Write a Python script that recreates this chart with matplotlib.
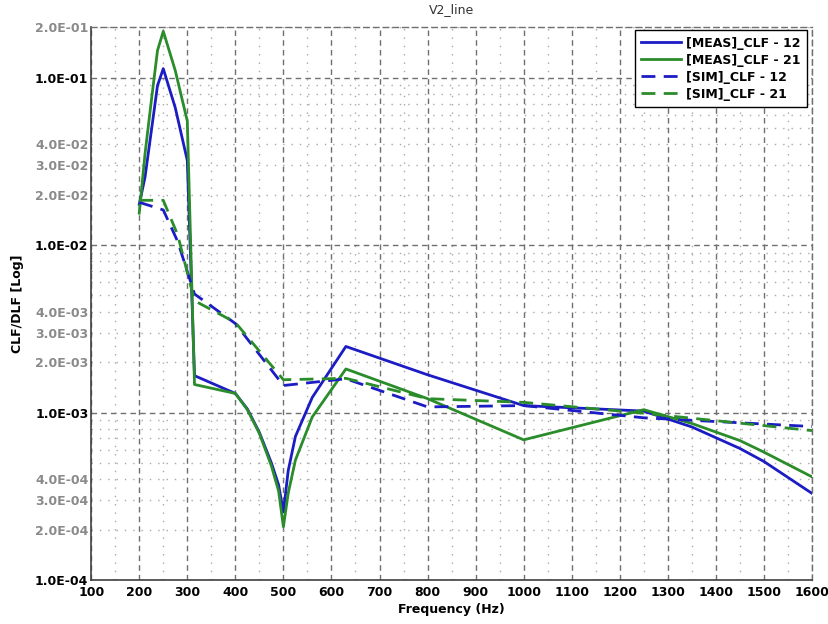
import matplotlib
matplotlib.use('Agg')
import matplotlib.pyplot as plt
from matplotlib.ticker import FixedLocator, FuncFormatter, MultipleLocator
import numpy as np

freq_meas = [200, 212, 226, 238, 250, 275, 300, 315, 400, 425, 450, 475, 490, 500,
             510, 525, 560, 630, 800, 1000, 1250, 1350, 1450, 1500, 1600]
meas_12 = [0.0175, 0.0254, 0.050, 0.0896, 0.113, 0.066, 0.032, 0.00166, 0.0013,
           0.00105, 0.00076, 0.00050, 0.00037, 0.000255, 0.00045, 0.00072, 0.00123,
           0.00248, 0.00168, 0.00110, 0.00102, 0.00082, 0.00061, 0.00051, 0.000329]
meas_21 = [0.0155, 0.035, 0.076, 0.145, 0.189, 0.11, 0.055, 0.00147, 0.0013,
           0.00104, 0.00075, 0.00048, 0.00034, 0.000208, 0.00033, 0.00052, 0.00094,
           0.00182, 0.00121, 0.000687, 0.00104, 0.00086, 0.00068, 0.00058, 0.000413]

# simulated curves
freq_sim = [200, 250, 280, 315, 400, 500, 630, 800, 1000, 1250, 1600]
sim_12 = [0.018, 0.0162, 0.0105, 0.0051, 0.0034, 0.00145, 0.00159, 0.00108,
          0.00110, 0.00093, 0.000825]
sim_21 = [0.0185, 0.0185, 0.0115, 0.00465, 0.00345, 0.00157, 0.0016, 0.00121,
          0.00115, 0.00099, 0.00078]

x_ticks = list(range(100, 1700, 100))
y_major = [1e-4, 1e-3, 1e-2, 1e-1]
y_minor = [m * 10.0 ** e for e in range(-4, 0) for m in range(2, 10)]

BLUE = '#1c1cc4'
GREEN = '#2a8c2a'

fig = plt.figure(figsize=(8.29, 6.24), dpi=100)
ax = fig.add_axes([0.110, 0.0705, 0.8695, 0.886])

ax.plot(freq_meas, meas_12, color=BLUE, lw=2, label='[MEAS]_CLF - 12')
ax.plot(freq_meas, meas_21, color=GREEN, lw=2, label='[MEAS]_CLF - 21')
ax.plot(freq_sim, sim_12, color=BLUE, lw=2, dashes=(5, 3), label='[SIM]_CLF - 12')
ax.plot(freq_sim, sim_21, color=GREEN, lw=2, dashes=(5, 3), label='[SIM]_CLF - 21')

ax.set_yscale('log')
ax.set_xlim(100, 1600)
ax.set_ylim(1e-4, 2e-1)

ax.xaxis.set_major_locator(FixedLocator(x_ticks))
ax.xaxis.set_minor_locator(MultipleLocator(50))
ax.yaxis.set_major_locator(FixedLocator(y_major))
ax.yaxis.set_minor_locator(FixedLocator([v for v in y_minor if v <= 2e-1]))


def minor_label(v, pos):
    mant = v / 10.0 ** np.floor(np.log10(v) + 1e-9)
    if round(mant) in (2, 3, 4):
        return '{:.1E}'.format(v)
    return ''


ax.yaxis.set_major_formatter(FuncFormatter(lambda v, pos: '{:.1E}'.format(v)))
ax.yaxis.set_minor_formatter(FuncFormatter(minor_label))

ax.tick_params(axis='y', which='major', labelsize=9, length=0, pad=2, labelcolor='black')
ax.tick_params(axis='y', which='minor', labelsize=9, length=0, pad=2, labelcolor='#8a8a8a')
ax.tick_params(axis='x', which='major', labelsize=9, length=0, pad=4)
ax.tick_params(axis='x', which='minor', length=0)
for lab in ax.get_yticklabels(which='both') + ax.get_xticklabels():
    lab.set_fontweight('bold')

ax.grid(True, which='major', color='#707070', ls=(0, (4, 3)), lw=1)
ax.grid(True, which='minor', color='#a8a8a8', ls=(0, (1, 5)), lw=1)

for side in ['left', 'bottom']:
    ax.spines[side].set_color('#404040')
    ax.spines[side].set_linewidth(1.2)
for side in ['top', 'right']:
    ax.spines[side].set_color('#707070')
    ax.spines[side].set_linestyle((0, (4, 3)))
    ax.spines[side].set_linewidth(1)

ax.set_title('V2_line', fontsize=9, color='#333333', pad=10)
ax.set_xlabel('Frequency (Hz)', fontsize=9, fontweight='bold', labelpad=3)
ax.set_ylabel('CLF/DLF [Log]', fontsize=9, fontweight='bold', labelpad=8)

leg = ax.legend(loc='upper right', prop={'weight': 'bold', 'size': 9},
                frameon=True, fancybox=False, framealpha=1, edgecolor='black',
                handlelength=3.2, handletextpad=0.4, borderpad=0.5,
                labelspacing=0.32, borderaxespad=0, bbox_to_anchor=(0.993, 0.994))
leg.get_frame().set_linewidth(1)

fig.savefig('out.png', dpi=100)
